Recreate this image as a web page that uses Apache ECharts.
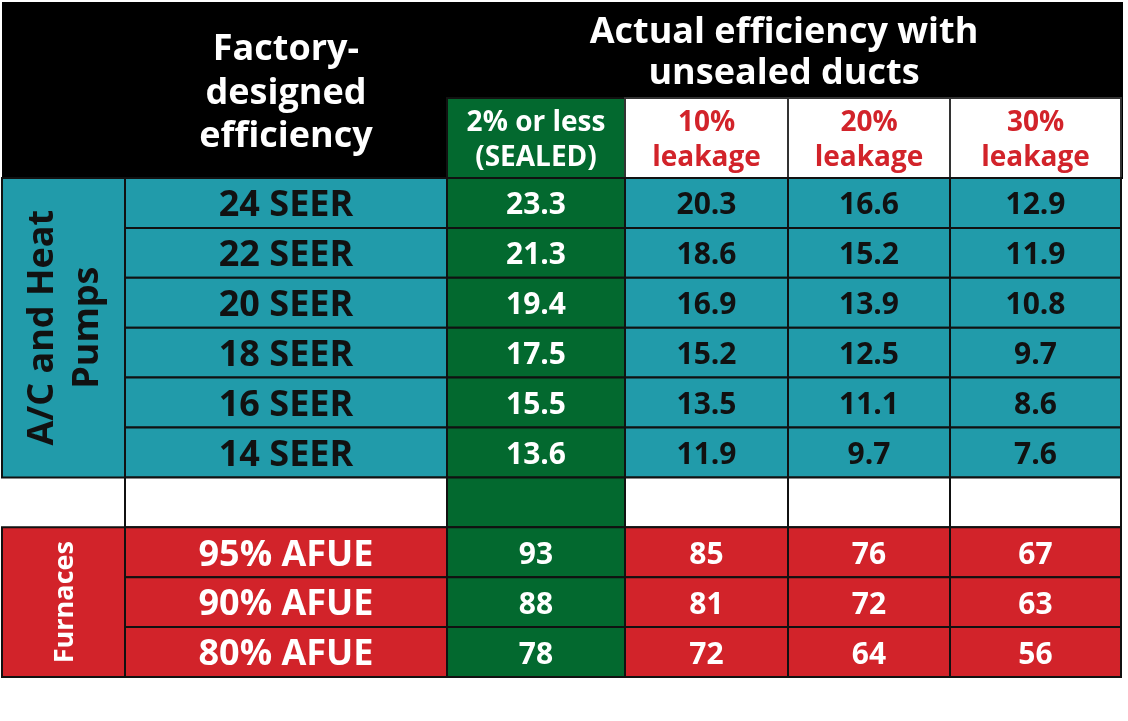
<!DOCTYPE html>
<html>
<head>
<meta charset="utf-8">
<script src="https://cdn.jsdelivr.net/npm/echarts@6/dist/echarts.min.js"></script>
<style>
html,body{margin:0;padding:0;background:#fff;}
#chart{width:1128px;height:721px;}
</style>
</head>
<body>
<div id="chart"></div>
<script>
// ---- data ----
const rowLabels = ['24 SEER','22 SEER','20 SEER','18 SEER','16 SEER','14 SEER','','95% AFUE','90% AFUE','80% AFUE'];
const rowKinds  = ['hp','hp','hp','hp','hp','hp','blank','furnace','furnace','furnace'];
const sealed = [23.3, 21.3, 19.4, 17.5, 15.5, 13.6, null, 93, 88, 78];
const leak10 = [20.3, 18.6, 16.9, 15.2, 13.5, 11.9, null, 85, 81, 72];
const leak20 = [16.6, 15.2, 13.9, 12.5, 11.1, 9.7, null, 76, 72, 64];
const leak30 = [12.9, 11.9, 10.8, 9.7, 8.6, 7.6, null, 67, 63, 56];
const groupLabels = ['A/C and Heat\nPumps', 'Furnaces'];
const groupRows = [[0, 5], [7, 9]];
const groupKinds = ['hp', 'furnace'];
const titleFactory = ['Factory-', 'designed', 'efficiency'];
const titleActual = ['Actual efficiency with', 'unsealed ducts'];
const columnHeaders = [['2% or less', '(SEALED)'], ['10%', 'leakage'], ['20%', 'leakage'], ['30%', 'leakage']];

// ---- layout / style ----
const COL_EDGES = [2, 125, 447, 625, 788, 950, 1121];
const TEAL = '#219BAA', RED = '#D2232A', GREEN = '#03692F', LINE = '#111';
const FONT = '"Open Sans", "DejaVu Sans", sans-serif';

const valueCols = [sealed, leak10, leak20, leak30];
const cells = [];
rowLabels.forEach((lab, r) => {
  cells.push({col: 1, row: r, text: lab, kind: rowKinds[r], isLabel: true});
  valueCols.forEach((arr, i) => {
    const v = arr[r];
    cells.push({col: 2 + i, row: r, text: v == null ? '' : (rowKinds[r] === 'hp' ? v.toFixed(1) : String(v)), kind: i === 0 ? 'green' : rowKinds[r], isLabel: false});
  });
});

function fillFor(kind) {
  return kind === 'hp' ? TEAL : kind === 'furnace' ? RED : kind === 'green' ? GREEN : '#fff';
}
function textFor(kind) {
  return kind === 'hp' ? '#111' : '#fff';
}

function renderCell(params, api) {
  const c = cells[params.dataIndex];
  const p0 = api.coord([COL_EDGES[c.col], c.row]);
  const p1 = api.coord([COL_EDGES[c.col + 1], c.row]);
  const h = api.size([0, 1])[1];
  return {
    type: 'group',
    children: [
      {type: 'rect', shape: {x: p0[0], y: p0[1] - h / 2, width: p1[0] - p0[0], height: h},
       style: {fill: fillFor(c.kind), stroke: LINE, lineWidth: 2}},
      {type: 'text', z2: 10, style: {text: c.text, x: (p0[0] + p1[0]) / 2, y: p0[1] + 3,
        align: 'center', verticalAlign: 'middle',
        font: 'bold ' + (c.isLabel ? 36 : 30) + 'px ' + FONT, fill: textFor(c.kind)}}
    ]
  };
}

function renderGroup(params, api) {
  const i = params.dataIndex;
  const [r0, r1] = groupRows[i];
  const a = api.coord([COL_EDGES[0], r0]);
  const b = api.coord([COL_EDGES[1], r1]);
  const h = api.size([0, 1])[1];
  const y0 = a[1] - h / 2, y1 = b[1] + h / 2;
  const kind = groupKinds[i];
  return {
    type: 'group',
    children: [
      {type: 'rect', shape: {x: a[0], y: y0, width: b[0] - a[0], height: y1 - y0},
       style: {fill: fillFor(kind), stroke: LINE, lineWidth: 2}},
      {type: 'text', z2: 10, x: (a[0] + b[0]) / 2 + 2, y: (y0 + y1) / 2, rotation: Math.PI / 2,
       style: {text: groupLabels[i], x: 0, y: 0, align: 'center', verticalAlign: 'middle',
        font: 'bold ' + (kind === 'hp' ? 36 : 27) + 'px ' + FONT, lineHeight: 45,
        fill: textFor(kind)}}
    ]
  };
}

// ---- header graphic ----
const graphics = [
  {type: 'rect', shape: {x: 2, y: 2, width: 1121, height: 177}, style: {fill: '#000'}, z: 0}
];
titleFactory.forEach((t, i) => {
  graphics.push({type: 'text', z: 5, style: {text: t, x: (COL_EDGES[1] + COL_EDGES[2]) / 2, y: 50 + i * 43.5,
    align: 'center', verticalAlign: 'middle', font: 'bold 36px ' + FONT, fill: '#fff'}});
});
titleActual.forEach((t, i) => {
  graphics.push({type: 'text', z: 5, style: {text: t, x: (COL_EDGES[2] + COL_EDGES[6]) / 2, y: 33 + i * 41,
    align: 'center', verticalAlign: 'middle', font: 'bold 36px ' + FONT, fill: '#fff'}});
});
columnHeaders.forEach((lines, i) => {
  const x0 = COL_EDGES[2 + i], x1 = COL_EDGES[3 + i];
  graphics.push({type: 'rect', z: 2, shape: {x: x0, y: 98, width: x1 - x0, height: 80},
    style: {fill: i === 0 ? GREEN : '#fff', stroke: i === 0 ? LINE : '#333', lineWidth: 2}});
  lines.forEach((t, j) => {
    graphics.push({type: 'text', z: 5, style: {text: t, x: (x0 + x1) / 2, y: 123 + j * 35,
      align: 'center', verticalAlign: 'middle', font: 'bold 28px ' + FONT,
      fill: i === 0 ? '#fff' : RED}});
  });
});

const chart = echarts.init(document.getElementById('chart'), null, {renderer: 'canvas'});
chart.setOption({
  animation: false,
  backgroundColor: '#fff',
  grid: {left: 0, right: 0, top: 178, bottom: 44},
  xAxis: {type: 'value', min: 0, max: 1128, show: false},
  yAxis: {type: 'category', data: rowLabels.map((l, i) => 'r' + i), inverse: true, show: false},
  graphic: graphics,
  series: [
    {type: 'custom', renderItem: renderCell, data: cells.map(c => [c.col, c.row]), z: 2},
    {type: 'custom', renderItem: renderGroup, data: groupRows.map(g => [0, g[0]]), z: 3}
  ]
});
</script>
</body>
</html>
